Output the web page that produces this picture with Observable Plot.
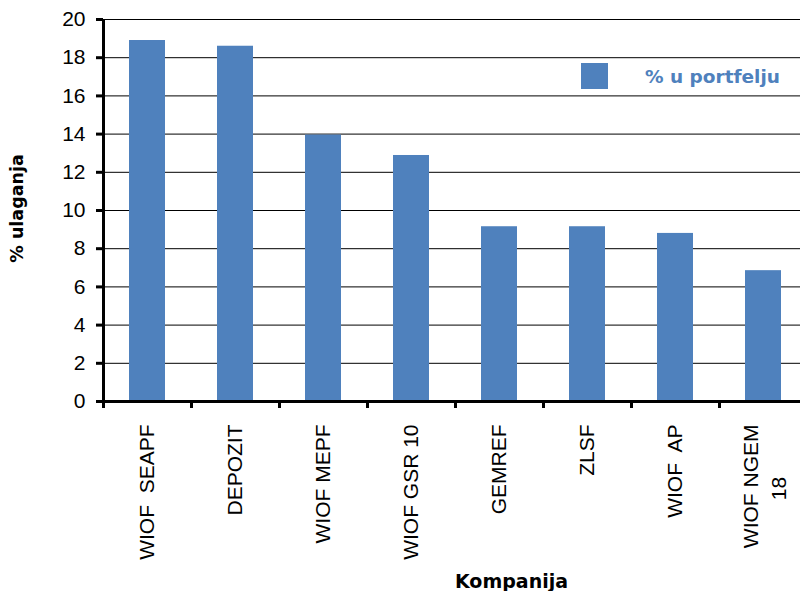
<!DOCTYPE html>
<html><head><meta charset="utf-8">
<script src="https://cdn.jsdelivr.net/npm/d3@7"></script>
<script src="https://cdn.jsdelivr.net/npm/@observablehq/plot@0.6"></script>
<style>
html,body{margin:0;padding:0;background:#fff;overflow:hidden;}
#chart svg{overflow:hidden;display:block}
text{white-space:pre}
</style></head><body><div id="chart"></div>
<script>
const companies = ["WIOF  SEAPF","DEPOZIT","WIOF MEPF","WIOF GSR 10","GEMREF","ZLSF","WIOF  AP","WIOF NGEM 18"];
const shares = [18.9, 18.6, 13.95, 12.88, 9.15, 9.15, 8.8, 6.85];
const labelLine1 = ["WIOF  SEAPF","DEPOZIT","WIOF MEPF","WIOF GSR 10","GEMREF","ZLSF","WIOF  AP","WIOF NGEM"];
const labelLine2 = ["","","","","","","","18"];
const yTicks = [0,2,4,6,8,10,12,14,16,18,20];
const seriesName = "% u portfelju";
const xTitle = "Kompanija";
const yTitle = "% ulaganja";

const data = companies.map((c,i)=>({company:c, share:shares[i], line1:labelLine1[i], line2:labelLine2[i]}));

const W = 800, H = 591, ml = 103, mr = -7, mt = 19, mb = 190;
const half = (W - ml - mr) / companies.length / 2;
const blue = "#4F81BD";
const titleFont = "'DejaVu Sans', sans-serif";

const plot = Plot.plot({
  width: W, height: H,
  marginLeft: ml, marginRight: mr, marginTop: mt, marginBottom: mb,
  style: {fontFamily: "'Liberation Sans', Arial, sans-serif", fontSize: "21px", background: "white", color: "#000"},
  x: {domain: companies, paddingInner: 0.59, paddingOuter: 0.295},
  y: {domain: [0, 20]},
  marks: [
    Plot.ruleY(yTicks.filter(v => v > 0), {stroke: "#000", strokeWidth: 1}),
    Plot.barY(data, {x: "company", y: "share", fill: blue}),
    Plot.ruleY([0], {stroke: "#000", strokeWidth: 3}),
    Plot.ruleX([companies[0]], {x: d => d, dx: -half, stroke: "#000", strokeWidth: 3}),
    Plot.axisY({ticks: yTicks, tickSize: 7, tickPadding: 11, strokeWidth: 3, label: null, fontSize: 21}),
    Plot.axisX({tickSize: 7, strokeWidth: 3, dx: -half, tickFormat: () => "", label: null}),
    // single-line category labels
    Plot.text(data.filter(d => !d.line2), {x: "company", text: "line1", frameAnchor: "bottom", lineAnchor: "middle",
      rotate: -90, textAnchor: "end", dy: 23, fontSize: 21, fill: "#000"}),
    // first line of two-line labels
    Plot.text(data.filter(d => d.line2), {x: "company", text: "line1", frameAnchor: "bottom", lineAnchor: "middle",
      rotate: -90, textAnchor: "end", dy: 23, dx: -12, fontSize: 21, fill: "#000"}),
    // second line, centred on the first
    Plot.text(data.filter(d => d.line2), {x: "company", text: "line2", frameAnchor: "bottom", lineAnchor: "middle",
      rotate: -90, textAnchor: "middle", dy: 87, dx: 16, fontSize: 21, fill: "#000"}),
    Plot.text([xTitle], {text: d => d, frameAnchor: "bottom", lineAnchor: "middle", textAnchor: "middle",
      dx: 56, dy: 180, fontWeight: "bold", fontFamily: titleFont, fontSize: 19, fill: "#000"}),
    Plot.text([yTitle], {text: d => d, frameAnchor: "left", lineAnchor: "middle", textAnchor: "middle",
      rotate: -90, dx: -86.5, dy: -2, fontWeight: "bold", fontFamily: titleFont, fontSize: 17.5, fill: "#000"})
  ]
});

const svg = d3.select(plot);
const lg = svg.append("g").attr("class", "legend");
lg.append("rect").attr("x", 581).attr("y", 63).attr("width", 27).attr("height", 26).attr("fill", blue);
lg.append("text").attr("x", 645).attr("y", 83).attr("fill", blue).attr("text-anchor", "start")
  .attr("font-family", titleFont).attr("font-weight", "bold").attr("font-size", 18.5).text(seriesName);

document.getElementById("chart").appendChild(plot);
</script></body></html>
